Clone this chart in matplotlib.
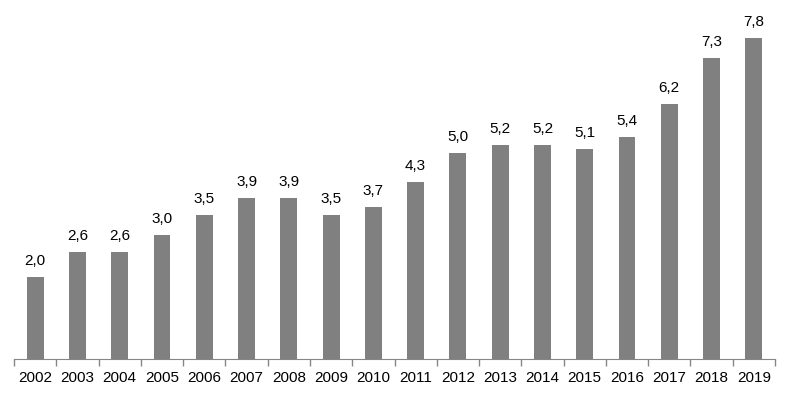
import numpy as np
import matplotlib.pyplot as plt

plt.rcParams['font.family'] = ['Liberation Sans', 'DejaVu Sans']

years = [str(y) for y in range(2002, 2020)]
values = [2.0, 2.6, 2.6, 3.0, 3.5, 3.9, 3.9, 3.5, 3.7, 4.3,
          5.0, 5.2, 5.2, 5.1, 5.4, 6.2, 7.3, 7.8]

fig = plt.figure(figsize=(7.94, 3.94), dpi=100)
ax = fig.add_axes([14 / 794, 35 / 394, 761 / 794, 359 / 394])

ind = np.arange(len(values))
ax.bar(ind, values, 0.4, color='#808080')

for x, v in zip(ind, values):
    ax.text(x, v + 0.22, f"{v:.1f}".replace('.', ','), ha='center', va='bottom',
            fontsize=11, color='black')

ax.set_xlim(-0.5, len(values) - 0.5)
ax.set_ylim(0, 8.72)
ax.set_xticks(ind)
ax.set_xticklabels(years, fontsize=11)
ax.set_xticks(np.arange(-0.5, len(values), 1), minor=True)
ax.tick_params(axis='x', which='major', length=0, pad=9)
ax.tick_params(axis='x', which='minor', length=5, color='#868686', width=1)
ax.set_yticks([])
for s in ['top', 'right', 'left']:
    ax.spines[s].set_visible(False)
ax.spines['bottom'].set_color('#868686')

fig.savefig('out.png', dpi=100)
